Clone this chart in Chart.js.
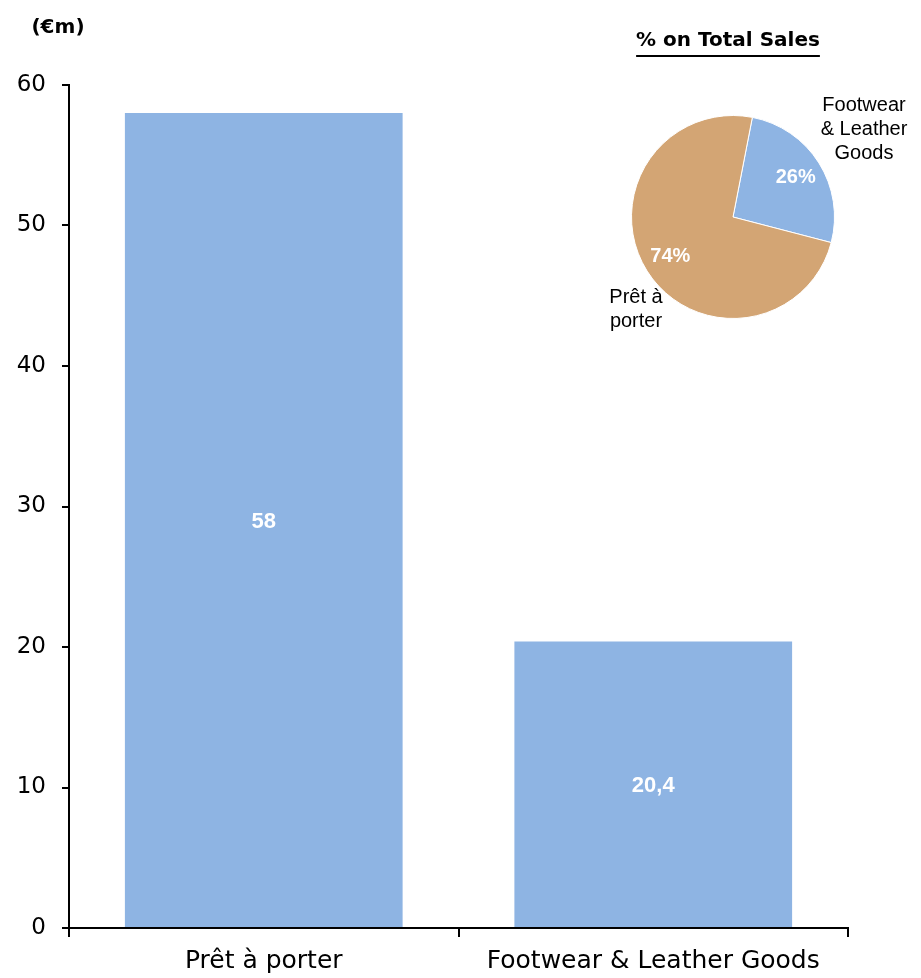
<!DOCTYPE html>
<html>
<head>
<meta charset="utf-8">
<title>Sales by category</title>
<script src="https://cdn.jsdelivr.net/npm/chart.js@4.4.1/dist/chart.umd.min.js"></script>
<style>
  html, body { margin: 0; padding: 0; background: #fff; }
  #wrap { position: relative; width: 921px; height: 978px; }
  #wrap canvas { position: absolute; left: 0; top: 0; }
  #pie { pointer-events: none; }
</style>
</head>
<body>
<div id="wrap">
  <canvas id="bars" width="921" height="978"></canvas>
  <canvas id="pie" width="921" height="978"></canvas>
</div>
<script>
"use strict";

// sales per category, €m
var categories = ["Prêt à porter", "Footwear & Leather Goods"];
var sales = [58, 20.4];
var salesLabels = ["58", "20,4"];

// share on total sales, %
var shareLabels = ["Footwear\n& Leather\nGoods", "Prêt à\nporter"];
var shares = [26, 74];

var blue = "#8eb4e3";
var tan = "#d3a574";
var axisFont = "DejaVu Sans";
var arial = "Liberation Sans";

Chart.defaults.animation = false;
Chart.defaults.responsive = false;
Chart.defaults.plugins.legend.display = false;
Chart.defaults.plugins.tooltip.enabled = false;

// white value labels in the middle of each bar + the "(€m)" unit
var barText = {
    id: "barText",
    afterDatasetsDraw: function (chart) {
        var ctx = chart.ctx;
        ctx.save();
        ctx.fillStyle = "#fff";
        ctx.font = "bold 22px '" + arial + "'";
        ctx.textAlign = "center";
        ctx.textBaseline = "middle";
        chart.getDatasetMeta(0).data.forEach(function (bar, i) {
            ctx.fillText(salesLabels[i], bar.x, (bar.y + bar.base) / 2 + 2);
        });
        ctx.fillStyle = "#000";
        ctx.font = "bold 20px '" + axisFont + "'";
        ctx.fillText("(€m)", 58, 28);
        ctx.restore();
    }
};

var barCtx = document.getElementById("bars").getContext("2d");
var barChart = new Chart(barCtx, {
    type: "bar",
    data: {
        labels: categories,
        datasets: [{
            data: sales,
            backgroundColor: blue,
            borderWidth: 0,
            categoryPercentage: 1,
            barPercentage: 0.713,
        }],
    },
    options: {
        layout: { padding: { left: 0, top: 85, right: 73, bottom: 0 } },
        scales: {
            x: {
                grid: { display: true, drawOnChartArea: false, drawTicks: true, tickLength: 9, color: "#000", lineWidth: 2 },
                border: { display: true, color: "#000", width: 2 },
                ticks: { color: "#000", font: { family: axisFont, size: 25 }, padding: 9 },
                afterFit: function (scale) { scale.height = 50; },
            },
            y: {
                min: 0,
                max: 60,
                ticks: { stepSize: 10, color: "#000", font: { family: axisFont, size: 23 }, padding: 16 },
                grid: { display: true, drawOnChartArea: false, drawTicks: true, tickLength: 7, color: "#000", lineWidth: 2 },
                border: { display: true, color: "#000", width: 2 },
                afterFit: function (scale) { scale.width = 69; },
            },
        },
    },
    plugins: [barText],
});

// percent labels inside slices, names outside, and the underlined title
var pieText = {
    id: "pieText",
    afterDatasetsDraw: function (chart) {
        var ctx = chart.ctx;
        var arcs = chart.getDatasetMeta(0).data;
        ctx.save();
        ctx.textAlign = "center";
        ctx.textBaseline = "middle";
        arcs.forEach(function (arc, i) {
            var mid = (arc.startAngle + arc.endAngle) / 2;
            var r = arc.outerRadius * 0.73;
            ctx.fillStyle = "#fff";
            ctx.font = "bold 20px '" + arial + "'";
            ctx.fillText(shares[i] + "%", arc.x + Math.cos(mid) * r, arc.y + Math.sin(mid) * r);
        });
        ctx.fillStyle = "#000";
        ctx.font = "20px '" + arial + "'";
        var lines = shareLabels[0].split("\n");
        lines.forEach(function (t, k) { ctx.fillText(t, 864, 105 + k * 24); });
        lines = shareLabels[1].split("\n");
        lines.forEach(function (t, k) { ctx.fillText(t, 636, 297 + k * 24); });

        ctx.font = "bold 20px '" + axisFont + "'";
        var title = "% on Total Sales";
        ctx.fillText(title, 728, 41);
        var w = ctx.measureText(title).width;
        ctx.fillRect(728 - w / 2, 55, w, 2);
        ctx.restore();
    }
};

var pieCtx = document.getElementById("pie").getContext("2d");
var pieChart = new Chart(pieCtx, {
    type: "pie",
    data: {
        labels: shareLabels,
        datasets: [{
            data: shares,
            backgroundColor: [blue, tan],
            borderColor: "#fff",
            borderWidth: 1,
        }],
    },
    options: {
        rotation: 11,
        layout: { padding: { left: 631, right: 86, top: 115, bottom: 659 } },
    },
    plugins: [pieText],
});
</script>
</body>
</html>
